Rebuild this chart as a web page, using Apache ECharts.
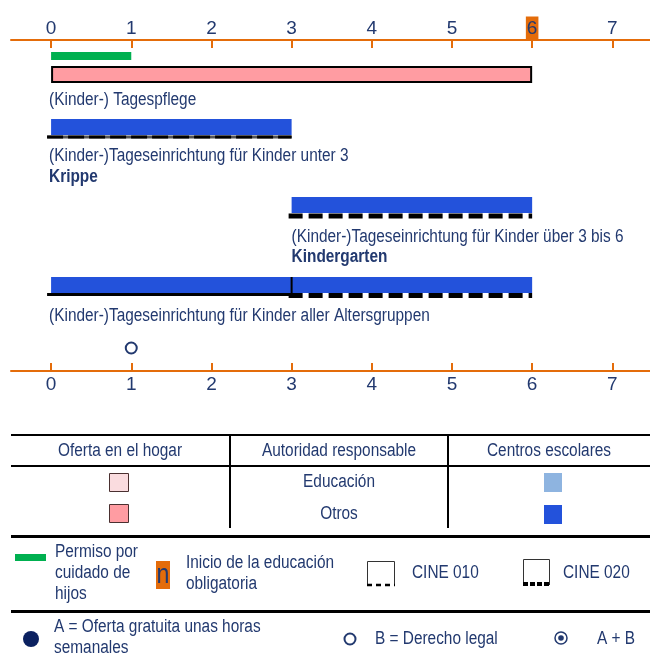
<!DOCTYPE html>
<html>
<head>
    <title>Betreuungsangebote nach Alter</title>
    <style>
        body {
            margin: 0;
            background: #fff;
        }

        #chart {
            width: 650px;
            height: 656px;
        }
    </style>
    <script src="https://cdn.jsdelivr.net/npm/echarts@6.0.0/dist/echarts.min.js"></script>
</head>
<body>
    <div id="chart"></div>

    <script>
        // data (ages in years)
        var ageTicks = [0, 1, 2, 3, 4, 5, 6, 7];
        var compulsoryAge = 6;
        var leaveRange = [0, 1];
        var childminderRange = [0, 6];
        var krippeRange = [0, 3];
        var kindergartenRange = [3, 6];
        var mixedAgeRange = [0, 6];
        var mixedSplitAge = 3;
        var entitlementAges = [1];

        var NAVY = '#22396f';
        var ORANGE = '#e46c0a';
        var BLUE = '#2352db';
        var PINK = '#ff9ca2';
        var FONT = '"Liberation Sans", Arial, sans-serif';
        var NARROW = 0.855; // the original uses a narrow face, squeeze Arial metrics

        var bars = [
            { kind: 'leave', range: leaveRange },
            { kind: 'home', range: childminderRange, text: '(Kinder-) Tagespflege' },
            { kind: 'krippe', range: krippeRange, text: '(Kinder-)Tageseinrichtung für Kinder unter 3', bold: 'Krippe' },
            { kind: 'kg', range: kindergartenRange, text: '(Kinder-)Tageseinrichtung für Kinder über 3 bis 6', bold: 'Kindergarten' },
            { kind: 'mixed', range: mixedAgeRange, text: '(Kinder-)Tageseinrichtung für Kinder aller Altersgruppen' }
        ];

        function narrowText(text, x, y, opts) {
            opts = opts || {};
            return {
                type: 'text',
                x: x,
                y: y,
                scaleX: NARROW,
                style: {
                    text: text, x: 0, y: 0, fill: NAVY,
                    font: (opts.bold ? 'bold ' : '') + (opts.size || 18) + 'px ' + FONT,
                    align: opts.align || 'left', verticalAlign: 'middle',
                    lineHeight: opts.lineHeight
                }
            };
        }

        function hline(x0, x1, y, width, dash, color) {
            return {
                type: 'line',
                shape: { x1: x0, y1: y, x2: x1, y2: y },
                style: { stroke: color || '#000', lineWidth: width, lineDash: dash || null }
            };
        }

        function renderBar(params, api) {
            var bar = bars[params.dataIndex];
            var x0 = api.coord([api.value(0), 0])[0];
            var x1 = api.coord([api.value(1), 0])[0];
            var c = [];
            if (bar.kind === 'leave') {
                c.push({ type: 'rect', shape: { x: x0, y: 52, width: x1 - x0, height: 8 }, style: { fill: '#00b050' } });
            } else if (bar.kind === 'home') {
                c.push({ type: 'rect', shape: { x: x0 + 1, y: 67, width: x1 - x0 - 2, height: 15 }, style: { fill: PINK, stroke: '#000', lineWidth: 2 } });
                c.push(narrowText(bar.text, x0 - 2, 100));
            } else if (bar.kind === 'krippe') {
                c.push({ type: 'rect', shape: { x: x0, y: 119, width: x1 - x0, height: 16 }, style: { fill: BLUE } });
                c.push(hline(x0 - 4, x1, 137, 3, null, '#555'));
                c.push(hline(x0 - 4, x1, 137, 3, [16, 5]));
                c.push(narrowText(bar.text, x0 - 2, 156));
                c.push(narrowText(bar.bold, x0 - 2, 177, { bold: true }));
            } else if (bar.kind === 'kg') {
                c.push({ type: 'rect', shape: { x: x0, y: 197, width: x1 - x0, height: 16 }, style: { fill: BLUE } });
                c.push(hline(x0 - 3, x1, 216, 5, [14, 6]));
                c.push(narrowText(bar.text, x0, 237));
                c.push(narrowText(bar.bold, x0, 257, { bold: true }));
            } else if (bar.kind === 'mixed') {
                var xs = api.coord([mixedSplitAge, 0])[0];
                c.push({ type: 'rect', shape: { x: x0, y: 277, width: x1 - x0, height: 16 }, style: { fill: BLUE } });
                c.push({ type: 'line', shape: { x1: xs, y1: 277, x2: xs, y2: 294 }, style: { stroke: '#000', lineWidth: 2 } });
                c.push(hline(x0 - 4, xs, 294.5, 3));
                c.push(hline(xs - 3, x1, 295.5, 5, [14, 6]));
                c.push(narrowText(bar.text, x0 - 2, 316));
            }
            return { type: 'group', children: c };
        }

        function renderEntitlement(params, api) {
            var x = api.coord([api.value(0), 0])[0];
            return {
                type: 'circle',
                shape: { cx: x, cy: 348, r: 5.5 },
                style: { fill: '#fff', stroke: NAVY, lineWidth: 2 }
            };
        }

        function ageAxis(position) {
            return {
                type: 'value',
                position: position,
                min: -0.5,
                max: 7.47,
                axisLine: { show: true, onZero: false, lineStyle: { color: ORANGE, width: 2 } },
                axisTick: { show: true, inside: true, length: 8, customValues: ageTicks, lineStyle: { color: ORANGE, width: 2 } },
                axisLabel: {
                    customValues: ageTicks,
                    margin: position === 'top' ? 1 : 2,
                    formatter: function (v) {
                        return (v === compulsoryAge && position === 'top') ? '{c|' + v + '}' : '{n|' + v + '}';
                    },
                    rich: {
                        n: { fontFamily: FONT, fontSize: 19, color: NAVY, lineHeight: 22, padding: [3, 1, 1, 1] },
                        c: { fontFamily: FONT, fontSize: 19, color: NAVY, lineHeight: 22, padding: [3, 1, 1, 1], backgroundColor: ORANGE }
                    }
                },
                splitLine: { show: false }
            };
        }

        // legend table under the chart
        function gLine(x1, y1, x2, y2, w, dash, color) {
            return { type: 'line', shape: { x1: x1, y1: y1, x2: x2, y2: y2 }, style: { stroke: color || '#000', lineWidth: w, lineDash: dash || null } };
        }

        var legend = [
            gLine(11, 435, 650, 435, 2),
            gLine(11, 466, 650, 466, 2),
            gLine(230, 435, 230, 528, 2),
            gLine(448, 435, 448, 528, 2),
            narrowText('Oferta en el hogar', 120, 451, { align: 'center' }),
            narrowText('Autoridad responsable', 339, 451, { align: 'center' }),
            narrowText('Centros escolares', 549, 451, { align: 'center' }),
            narrowText('Educación', 339, 482, { align: 'center' }),
            narrowText('Otros', 339, 514, { align: 'center' }),
            { type: 'rect', shape: { x: 109.5, y: 473.5, width: 19, height: 18 }, style: { fill: '#fadcdf', stroke: '#4a3030', lineWidth: 1 } },
            { type: 'rect', shape: { x: 109.5, y: 504.5, width: 19, height: 18 }, style: { fill: PINK, stroke: '#4a3030', lineWidth: 1 } },
            { type: 'rect', shape: { x: 544, y: 473, width: 18, height: 19 }, style: { fill: '#8eb4e0' } },
            { type: 'rect', shape: { x: 544, y: 505, width: 18, height: 19 }, style: { fill: BLUE } },

            gLine(11, 536.5, 650, 536.5, 3),
            { type: 'rect', shape: { x: 15, y: 554, width: 31, height: 7 }, style: { fill: '#00b050' } },
            narrowText('Permiso por\ncuidado de\nhijos', 55, 573, { lineHeight: 21 }),
            { type: 'rect', shape: { x: 156, y: 561, width: 14, height: 28 }, style: { fill: ORANGE } },
            narrowText('n', 163, 576, { align: 'center', size: 27 }),
            narrowText('Inicio de la educación\nobligatoria', 186, 573.5, { lineHeight: 21 }),
            { type: 'polyline', shape: { points: [[367.5, 586], [367.5, 561.5], [394.5, 561.5], [394.5, 586]] }, style: { stroke: '#333', lineWidth: 1, fill: null } },
            gLine(367, 585, 395, 585, 2.5, [5, 4]),
            narrowText('CINE 010', 412, 573),
            { type: 'polyline', shape: { points: [[523.5, 585], [523.5, 559.5], [549.5, 559.5], [549.5, 585]] }, style: { stroke: '#333', lineWidth: 1, fill: null } },
            gLine(523, 584, 550, 584, 4, [5, 2]),
            narrowText('CINE 020', 563, 573),

            gLine(11, 611.5, 650, 611.5, 3),
            { type: 'circle', shape: { cx: 31, cy: 639, r: 8 }, style: { fill: '#0b2160' } },
            narrowText('A = Oferta gratuita unas horas\nsemanales', 54, 638, { lineHeight: 21 }),
            { type: 'circle', shape: { cx: 350, cy: 639, r: 5.5 }, style: { fill: '#fff', stroke: NAVY, lineWidth: 2 } },
            narrowText('B = Derecho legal', 375, 639),
            { type: 'circle', shape: { cx: 561, cy: 638, r: 6 }, style: { fill: '#fff', stroke: NAVY, lineWidth: 1.5 } },
            { type: 'circle', shape: { cx: 561, cy: 638, r: 2.8 }, style: { fill: NAVY } },
            narrowText('A + B', 597, 639)
        ];

        var myChart = echarts.init(document.getElementById('chart'));

        var option = {
            animation: false,
            grid: { left: 11, right: 0, top: 40, bottom: 285, containLabel: false, outerBoundsMode: 'none' },
            xAxis: [ageAxis('top'), ageAxis('bottom')],
            yAxis: { type: 'value', min: 0, max: 1, show: false },
            series: [
                {
                    type: 'custom',
                    xAxisIndex: 0,
                    renderItem: renderBar,
                    data: bars.map(function (b) { return b.range; })
                },
                {
                    type: 'custom',
                    xAxisIndex: 0,
                    renderItem: renderEntitlement,
                    data: entitlementAges.map(function (a) { return [a]; })
                }
            ],
            graphic: legend
        };

        myChart.setOption(option);
    </script>
</body>
</html>
